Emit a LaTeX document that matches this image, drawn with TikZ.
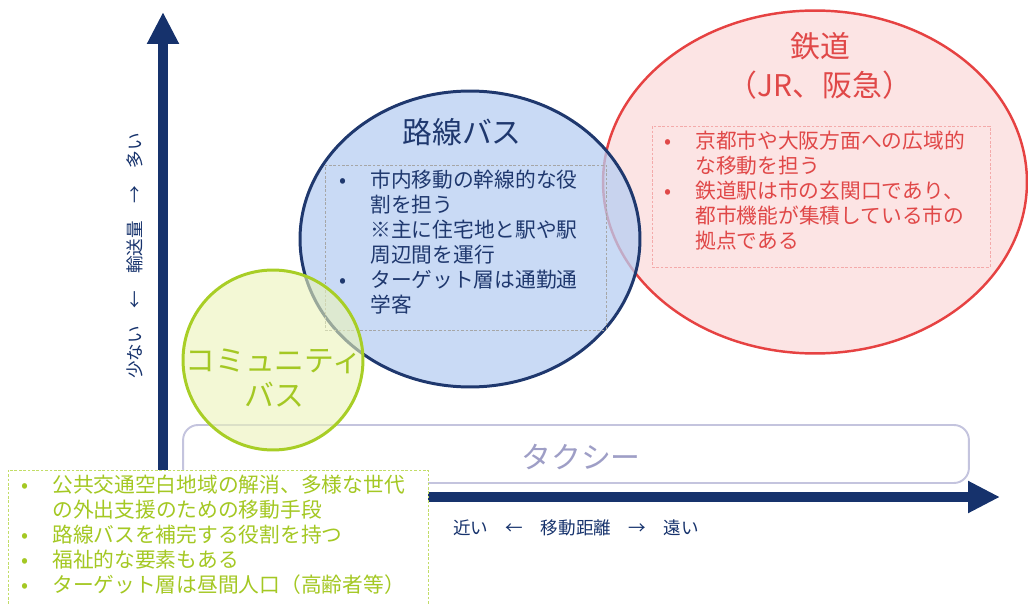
\documentclass[tikz,border=0pt]{standalone}
\usepackage{fontspec}
\setmainfont{Noto Sans CJK JP}
\usetikzlibrary{arrows.meta,shapes.geometric}

\definecolor{axisnavy}{RGB}{22,50,108}
\definecolor{railred}{RGB}{230,66,66}
\definecolor{railfill}{RGB}{252,228,228}
\definecolor{railtext}{RGB}{224,72,72}
\definecolor{busblue}{RGB}{31,56,110}
\definecolor{busfill}{RGB}{183,206,242}
\definecolor{commgreen}{RGB}{168,206,38}
\definecolor{commfill}{RGB}{235,243,185}
\definecolor{commtext}{RGB}{164,200,35}
\definecolor{taxiline}{RGB}{196,196,222}
\definecolor{taxitext}{RGB}{158,158,198}

% bullet list with fixed line breaks
\newcommand{\notelist}[1]{\begin{tabular}{@{}p{0.62cm}@{}l@{}}#1\end{tabular}}

\begin{document}
\begin{tikzpicture}[x=0.02cm, y=-0.02cm,
    axisline/.style={line width=0.2cm, axisnavy, -{Triangle[length=0.64cm, width=0.6cm]}},
    axislabel/.style={axisnavy, font=\fontsize{10pt}{12pt}\selectfont},
    oval/.style={ellipse, inner sep=0pt},
    titletext/.style={align=center, font=\fontsize{17pt}{22pt}\selectfont},
    notebox/.style={draw, line width=0.5pt, dash pattern=on 1.5pt off 1pt, inner sep=0pt},
    notetext/.style={anchor=west, inner sep=0pt, font=\fontsize{11.8pt}{14.3pt}\selectfont}]
    \useasboundingbox (0,0) rectangle (1028,605);
    \clip (0,0) rectangle (1028,605);

    % Axes
    \coordinate (origin) at (163,497);
    \coordinate (ytip) at (163,12);
    \coordinate (xtip) at (1000,497);
    \draw[axisline] (origin) -- (ytip);
    \draw[axisline] (origin) -- (xtip);
    \node[axislabel, rotate=90] (ylabel) at (135,256) {少ない\quad ←\quad 輸送量\quad →\quad 多い};
    \node[axislabel] (xlabel) at (576,528) {近い\quad ←\quad 移動距離\quad →\quad 遠い};

    % Railway
    \node[oval, draw=railred, line width=1.4pt, fill=railfill,
          minimum width=8.48cm, minimum height=6.86cm] (rail) at (815,182) {};
    \node[titletext, railtext] (railtitle) at (820,66) {鉄道\\（JR、阪急）};
    \node[notebox, draw=railred!45, minimum width=6.76cm, minimum height=2.82cm] (railbox) at (821,196.5) {};
    \node[notetext, railtext] (railnote) at (664,193.5) {\notelist{
        • & 京都市や大阪方面への広域的\\
          & な移動を担う\\
        • & 鉄道駅は市の玄関口であり、\\
          & 都市機能が集積している市の\\
          & 拠点である}};

    % Route bus
    \node[oval, draw=busblue, line width=1.7pt, fill=busfill, fill opacity=0.75,
          minimum width=6.8cm, minimum height=5.92cm] (bus) at (470,239) {};
    \node[titletext, busblue] (bustitle) at (462,132) {路線バス};
    \node[notebox, draw=gray!70, minimum width=5.62cm, minimum height=3.3cm] (busbox) at (465.5,247.5) {};
    \node[notetext, busblue] (busnote) at (339,245) {\notelist{
        • & 市内移動の幹線的な役\\
          & 割を担う\\
          & ※主に住宅地と駅や駅\\
          & 周辺間を運行\\
        • & ターゲット層は通勤通\\
          & 学客}};

    % Taxi
    \node[draw=taxiline, line width=1.1pt, fill=white, rounded corners=0.3cm,
          minimum width=15.72cm, minimum height=1.16cm] (taxi) at (576,454) {};
    \node[titletext, taxitext] (taxititle) at (581,457) {タクシー};

    % Community bus
    \node[oval, draw=commgreen, line width=1.7pt, fill=commfill, fill opacity=0.6, draw opacity=1,
          minimum width=3.6cm, minimum height=3.6cm] (comm) at (273,360) {};
    \node[titletext, commtext, font=\fontsize{17pt}{20pt}\selectfont] (commtitle) at (274,378) {コミュニティ\\バス};
    \node[notebox, draw=commgreen!70, fill=white, minimum width=8.4cm, minimum height=2.8cm] (commbox) at (218,540) {};
    \node[notetext, commtext] (commnote) at (21,537.5) {\notelist{
        • & 公共交通空白地域の解消、多様な世代\\
          & の外出支援のための移動手段\\
        • & 路線バスを補完する役割を持つ\\
        • & 福祉的な要素もある\\
        • & ターゲット層は昼間人口（高齢者等）}};
\end{tikzpicture}
\end{document}
